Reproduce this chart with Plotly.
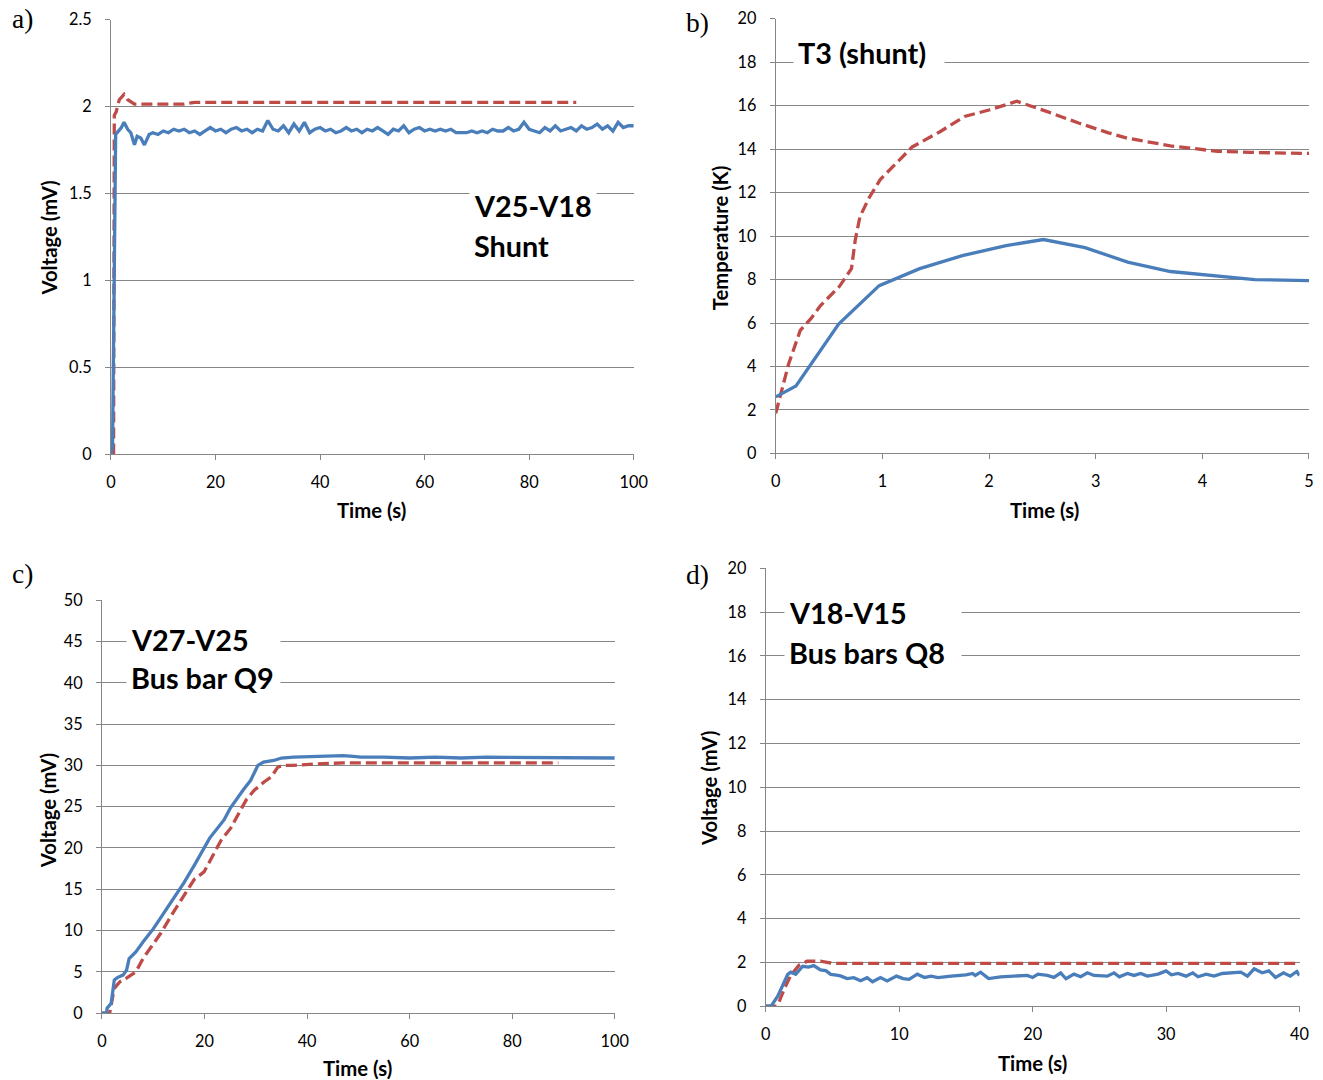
import plotly.graph_objects as go

BLUE = "#4A7EBB"
RED = "#BE4B48"
GRID = "#868686"

# ---------------- Panel a : V25-V18 Shunt ----------------
a_blue_t = [0, 0.3, 0.9, 1.5, 2.0, 2.5, 3.2, 3.8, 4.5, 5.0, 5.7, 6.4, 7.3, 8, 9, 10, 11, 12, 13, 14, 15,
            16, 17, 18, 19, 20, 21, 22, 23, 24, 25, 26, 27, 28, 29, 30, 31, 32, 33, 34, 35, 36, 37, 38,
            39, 40, 41, 42, 43, 44, 45, 46, 47, 48, 49, 50, 51, 52, 53, 54, 55, 56, 57, 58, 59, 60, 61,
            62, 63, 64, 65, 66, 67, 68, 69, 70, 71, 72, 73, 74, 75, 76, 77, 78, 79, 80, 81, 82, 83, 84,
            85, 86, 87, 88, 89, 90, 91, 92, 93, 94, 95, 96, 97, 98, 99, 100]
a_blue_v = [0, 0.05, 1.84, 1.86, 1.88, 1.91, 1.87, 1.85, 1.78, 1.83, 1.82, 1.78, 1.84, 1.85, 1.84, 1.86,
            1.85, 1.87, 1.86, 1.87, 1.85, 1.86, 1.84, 1.86, 1.88, 1.86, 1.87, 1.85, 1.87, 1.88, 1.86,
            1.87, 1.85, 1.87, 1.86, 1.92, 1.87, 1.86, 1.89, 1.85, 1.90, 1.86, 1.91, 1.85, 1.87, 1.88,
            1.86, 1.87, 1.85, 1.86, 1.88, 1.86, 1.87, 1.85, 1.87, 1.86, 1.88, 1.86, 1.84, 1.87, 1.86,
            1.89, 1.85, 1.87, 1.88, 1.86, 1.87, 1.86, 1.87, 1.86, 1.87, 1.85, 1.85, 1.85, 1.86, 1.85,
            1.86, 1.85, 1.87, 1.86, 1.86, 1.88, 1.86, 1.87, 1.91, 1.87, 1.86, 1.85, 1.88, 1.86, 1.89,
            1.86, 1.87, 1.88, 1.86, 1.89, 1.87, 1.88, 1.90, 1.87, 1.89, 1.86, 1.91, 1.88, 1.89, 1.89]
a_red_t = [0.5, 0.64, 1.0, 1.6, 2.5, 3.2, 4.5, 6, 14, 16, 89]
a_red_v = [0, 1.95, 1.97, 2.04, 2.07, 2.04, 2.015, 2.015, 2.015, 2.025, 2.025]

# ---------------- Panel b : T3 (shunt) ----------------
b_blue_t = [0, 0.19, 0.59, 0.97, 1.35, 1.75, 2.16, 2.51, 2.9, 3.3, 3.7, 4.08, 4.49, 5.0]
b_blue_v = [2.6, 3.1, 5.95, 7.72, 8.5, 9.1, 9.56, 9.84, 9.47, 8.8, 8.37, 8.18, 8.0, 7.95]
b_red_t = [0, 0.12, 0.23, 0.33, 0.42, 0.6, 0.71, 0.745, 0.79, 0.88, 0.98, 1.12, 1.28, 1.54, 1.77,
           2.0, 2.26, 2.56, 2.84, 3.12, 3.3, 3.7, 4.14, 4.45, 5.0]
b_red_v = [1.84, 4.1, 5.66, 6.2, 6.8, 7.7, 8.5, 9.8, 10.9, 11.8, 12.6, 13.3, 14.1, 14.8, 15.5,
           15.8, 16.2, 15.7, 15.2, 14.75, 14.5, 14.15, 13.9, 13.85, 13.8]

# ---------------- Panel c : V27-V25 Bus bar Q9 ----------------
c_blue_t = [0, 0.9, 1.0, 1.8, 2.4, 3.0, 4.1, 4.8, 5.3, 6.6, 8, 10, 11.5, 14, 16, 18, 19.9, 21, 23.8,
            25, 27.5, 29, 30.4, 31.5, 33.5, 35, 37.4, 41.3, 44, 47, 49, 50.5, 55, 60, 65, 70, 75,
            80, 85, 90, 95, 100]
c_blue_v = [0, 0, 0.6, 1.2, 4.0, 4.3, 4.6, 5.2, 6.6, 7.4, 8.6, 10.2, 11.6, 13.9, 15.8, 17.9, 20.1,
            21.2, 23.4, 24.8, 27.0, 28.2, 30.0, 30.4, 30.6, 30.9, 31.0, 31.1, 31.2, 31.2, 31.1, 31.0,
            31.0, 30.9, 31.0, 30.9, 31.0, 31.0, 30.9, 31.0, 31.0, 30.9]
c_red_t = [0, 1.5, 2.4, 3.5, 4.7, 6.6, 8, 11.5, 14, 16.7, 18, 19.9, 21.5, 23.2, 25.1, 26.5, 28.1,
           29.7, 31.6, 33, 34.3, 35.5, 37.4, 42, 47, 55, 70, 89]
c_red_v = [0, 0, 3.0, 3.8, 4.2, 5.0, 6.6, 9.7, 12.3, 14.9, 16.2, 17.1, 19.0, 20.9, 22.4, 24.0, 25.8,
           27.0, 28.0, 28.6, 29.8, 30.0, 30.0, 30.2, 30.3, 30.3, 30.3, 30.3]

# ---------------- Panel d : V18-V15 Bus bars Q8 ----------------
d_blue_t = [0, 0.4, 0.9, 1.35, 1.65, 1.87, 2.25, 2.77, 3.2, 3.6, 4.1, 4.5, 4.87, 5.3, 5.6, 6.1, 6.6,
            7.1, 7.6, 8.0, 8.6, 9.1, 9.8, 10.3, 10.74, 11.36, 11.9, 12.4, 12.9, 13.9, 14.5, 15.0, 15.5,
            15.7, 16.1, 16.7, 17.6, 18.5, 19.6, 20.0, 20.4, 21.1, 21.6, 22.1, 22.5, 23.1, 23.6, 24.1,
            24.6, 25.6, 26.1, 26.5, 27.1, 27.6, 28.1, 28.6, 29.4, 30.0, 30.4, 30.9, 31.5, 32.0, 32.4,
            33.0, 33.6, 34.2, 34.8, 35.6, 36.1, 36.6, 37.2, 37.7, 38.2, 38.8, 39.3, 39.8, 40.0]
d_blue_v = [0, 0, 0.45, 1.0, 1.45, 1.55, 1.45, 1.82, 1.78, 1.85, 1.65, 1.62, 1.45, 1.42, 1.38, 1.26,
            1.3, 1.16, 1.3, 1.11, 1.3, 1.15, 1.37, 1.26, 1.22, 1.46, 1.31, 1.37, 1.30, 1.37, 1.40,
            1.43, 1.49, 1.40, 1.55, 1.26, 1.34, 1.36, 1.40, 1.31, 1.46, 1.40, 1.31, 1.52, 1.25, 1.46,
            1.34, 1.52, 1.40, 1.37, 1.52, 1.34, 1.49, 1.40, 1.49, 1.37, 1.46, 1.61, 1.43, 1.49, 1.37,
            1.52, 1.34, 1.46, 1.37, 1.49, 1.52, 1.55, 1.37, 1.70, 1.52, 1.61, 1.31, 1.52, 1.37, 1.58,
            1.40]
d_red_t = [0, 0.8, 1.0, 1.4, 1.87, 2.5, 3.1, 4.1, 4.6, 5.1, 40]
d_red_v = [0, 0, 0.2, 0.8, 1.4, 1.87, 2.05, 2.05, 2.0, 1.95, 1.95]

PX_W, PX_H = 1323, 1080
# the rendered page comes out slightly shrunk; layout positions are pre-compensated
SX, OX, SY, OY = 0.986, 4.0, 0.983, 9.3


def px_x(p):
    return min(1.0, max(0.0, (p - OX) / SX / PX_W))


def px_y(p):
    return min(1.0, max(0.0, 1 - (p - OY) / SY / PX_H))


panels = [
    ("", (110, 633), (19, 454), [0, 100], 20, [0, 2.5], 0.5, (a_blue_t, a_blue_v), (a_red_t, a_red_v)),
    ("2", (775, 1312), (18, 453), [0, 5], 1, [0, 20], 2, (b_blue_t, b_blue_v), (b_red_t, b_red_v)),
    ("3", (101, 614), (600, 1013), [0, 100], 20, [0, 50], 5, (c_blue_t, c_blue_v), (c_red_t, c_red_v)),
    ("4", (765, 1299), (568, 1006), [0, 40], 10, [0, 20], 2, (d_blue_t, d_blue_v), (d_red_t, d_red_v)),
]

fig = go.Figure()
layout = {}
TICKFONT = dict(family="Lato", size=16.3, color="#000")
for suf, (x0, x1), (ytop, ybot), xr, xdt, yr, ydt, blue, red in panels:
    xa = "x" + suf
    ya = "y" + suf
    fig.add_trace(go.Scatter(x=red[0], y=red[1], mode="lines", xaxis=xa, yaxis=ya,
                             line=dict(color=RED, width=3.3, dash="11px,5px")))
    fig.add_trace(go.Scatter(x=blue[0], y=blue[1], mode="lines", xaxis=xa, yaxis=ya,
                             line=dict(color=BLUE, width=3.3)))
    layout["xaxis" + suf] = dict(
        domain=[px_x(x0), px_x(x1)], range=xr, dtick=xdt, tick0=0, anchor=ya,
        showgrid=False, zeroline=False, showline=True, linecolor=GRID, linewidth=1,
        ticks="outside", ticklen=5, tickcolor=GRID, tickfont=TICKFONT, ticklabelstandoff=8,
        fixedrange=True)
    layout["yaxis" + suf] = dict(
        domain=[px_y(ybot), px_y(ytop)], range=yr, dtick=ydt, tick0=0, anchor=xa,
        showgrid=True, gridcolor=GRID, gridwidth=1, zeroline=False, showline=True,
        linecolor=GRID, linewidth=1, ticks="outside", ticklen=5, tickcolor=GRID,
        tickfont=TICKFONT, ticklabelstandoff=10, fixedrange=True)

annotations = []
for txt, x, y in [("a)", 22, 18), ("b)", 697, 22), ("c)", 22, 573), ("d)", 697, 574)]:
    annotations.append(dict(text=txt, x=px_x(x), y=px_y(y), xref="paper", yref="paper",
                            xanchor="center", yanchor="middle", showarrow=False,
                            font=dict(family="Liberation Serif", size=27.5, color="#000")))

TITLEFONT = dict(family="Lato", size=20.3, color="#000", weight="bold")
for txt, x, y, ang in [
    ("Time (s)", 371, 510, 0), ("Time (s)", 1044, 510, 0),
    ("Time (s)", 357, 1068, 0), ("Time (s)", 1032, 1063, 0),
    ("Voltage (mV)", 48, 237, -90), ("Temperature (K)", 719, 237, -90),
    ("Voltage (mV)", 47, 810, -90), ("Voltage (mV)", 708, 788, -90),
]:
    annotations.append(dict(text=txt, x=px_x(x), y=px_y(y), xref="paper", yref="paper",
                            xanchor="center", yanchor="middle", showarrow=False,
                            textangle=ang, font=TITLEFONT))

LABELFONT = dict(family="Lato", size=28.8, color="#000", weight="bold")
for txt, xa, ya, x, y, w in [
    ("V25-V18", "x", "y", 68.45, 1.431, 118),
    ("Shunt", "x", "y", 68.45, 1.201, 118),
    ("T3 (shunt)", "x2", "y2", 0.158, 18.44, 142),
    ("V27-V25", "x3", "y3", 4.68, 45.16, 145),
    ("Bus bar Q9", "x3", "y3", 4.68, 40.56, 145),
    ("V18-V15", "x4", "y4", 1.35, 17.95, 168),
    ("Bus bars Q8", "x4", "y4", 1.35, 16.12, 168),
]:
    annotations.append(dict(text=txt, x=x, y=y, xref=xa, yref=ya, xanchor="left", yanchor="middle",
                            showarrow=False, align="left", width=w, bgcolor="white", borderpad=4,
                            font=LABELFONT))

fig.update_layout(
    width=PX_W, height=PX_H, margin=dict(l=0, r=0, t=0, b=0),
    paper_bgcolor="white", plot_bgcolor="white", showlegend=False, hovermode=False,
    annotations=annotations, **layout)

fig.write_html("out.html", config={"displayModeBar": False})
